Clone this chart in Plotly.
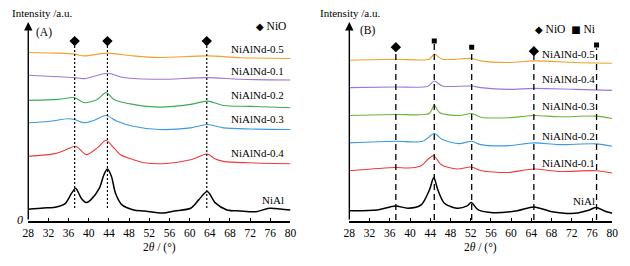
import plotly.graph_objects as go

# ---------------- data (2θ in degrees, intensity in a.u. with stacking offsets) ----------------
# Panel A
A_x_NiAl = [28, 31, 33.3, 35.25, 36.6, 37.4, 38.5, 39.5, 40.4, 42.1, 43.0, 43.7, 44.5, 45.3, 46.6, 48.9,
            51, 54.7, 57, 60.2, 61.8, 63.5, 65.1, 67.4, 70, 73.2, 75.8, 78, 80]
A_y_NiAl = [11.7, 13, 13.7, 17, 27.7, 32.7, 22.7, 18.3, 21, 32.7, 46, 51.7, 44.3, 27.7, 16, 11,
            10, 8, 10, 12.7, 21, 29.3, 18, 11, 10, 9.3, 12.7, 12, 11]

A_x_04 = [28, 33.3, 35.25, 37.4, 39.5, 41.7, 43.4, 44.7, 46.3, 48.9, 51, 54.7, 60.2, 63.5, 65, 66.7, 73, 80]
A_y_04 = [64.3, 67, 70.3, 74.3, 66, 72.7, 80.3, 74.3, 66, 61, 58, 57, 61, 66.7, 62, 59.3, 57.7, 57]

A_x_03 = [28, 32, 35.9, 37.2, 39.1, 41, 43.4, 45.6, 48.8, 54, 60.2, 63.5, 66.7, 72, 80]
A_y_03 = [97.7, 99, 101.7, 101, 97.7, 100, 105, 99.3, 94.3, 91, 92.7, 96, 92.7, 91.5, 91]

A_x_02 = [28, 34, 37.2, 39.1, 41.7, 43.4, 45, 48.8, 54, 60.2, 63.5, 66.7, 72, 80]
A_y_02 = [120, 121, 122.7, 117.7, 121, 127.7, 121, 116, 113.3, 116, 119.3, 115, 114, 112.7]

A_x_01 = [28, 34, 37.2, 39.1, 43.7, 46.9, 54, 63.5, 70, 80]
A_y_01 = [145, 143.5, 142.7, 141.7, 147, 142.7, 141, 142.7, 141, 140.3]

A_x_05 = [28, 34, 37.2, 39.1, 43.7, 48.8, 54, 63.5, 70, 80]
A_y_05 = [167.7, 167, 166, 164.3, 167, 164.3, 162.7, 164.3, 162.5, 161.7]

A_NiO_peaks = [37.2, 43.7, 63.4]
A_NiO_marker_y = [179, 179, 179]

# Panel B
B_x_NiAl = [28, 33.5, 37.1, 39.6, 42.2, 43.85, 44.7, 45.5, 46.8, 49.3, 51.3, 52.1, 53.5, 56.5, 61.2, 64.5,
            68.1, 72.6, 75.5, 76.8, 78.5, 80]
B_y_NiAl = [10.3, 11, 15, 12.7, 16, 31, 43.3, 31, 17.7, 12.7, 15, 18.3, 11, 8.3, 10.3, 14,
            9.3, 7.7, 11, 13.5, 10, 7.7]

B_x_01 = [28, 37.1, 39.6, 42.2, 43.85, 44.7, 46.2, 49.3, 52.1, 54, 56.5, 59.6, 64.5, 69.4, 76.8, 80]
B_y_01 = [50, 53.3, 52.7, 55, 62.7, 65, 56, 51.7, 53.7, 50.3, 48.7, 48.3, 51.7, 49.3, 50, 47.7]

B_x_02 = [28, 37.1, 42.5, 44.8, 46.4, 49.7, 52.25, 54, 59.6, 64.5, 69.4, 76.8, 80]
B_y_02 = [77.7, 79.3, 79.3, 87, 81, 77, 79.3, 76, 75, 77.7, 76, 76.7, 74.3]

B_x_03 = [28, 37.1, 43.8, 44.8, 45.9, 49.7, 52.25, 54, 59.6, 64.5, 69.4, 76.8, 80]
B_y_03 = [105, 106, 107, 115, 107.7, 105, 107, 103.3, 102.7, 105, 103.7, 104.3, 102]

B_x_04 = [28, 37.1, 43.5, 44.8, 46.4, 52.25, 54, 59.6, 64.5, 72.6, 80]
B_y_04 = [132.7, 133.3, 134, 139.3, 134.3, 134.3, 132.7, 131, 132, 131, 130]

B_x_05 = [28, 37.1, 43.8, 44.8, 46.4, 52.25, 54, 59.6, 64.5, 72.6, 80]
B_y_05 = [160, 161, 161, 166, 161, 161.7, 159.3, 157.7, 159.3, 157.7, 157]

B_NiO_peaks = [37.2, 64.5]
B_NiO_marker_y = [173, 169]
B_Ni_peaks = [44.8, 52.2, 76.9]
B_Ni_marker_y = [179, 173, 175]

A_labels = ["NiAlNd-0.5", "NiAlNd-0.1", "NiAlNd-0.2", "NiAlNd-0.3", "NiAlNd-0.4", "NiAl"]
B_labels = ["NiAlNd-0.5", "NiAlNd-0.4", "NiAlNd-0.3", "NiAlNd-0.2", "NiAlNd-0.1", "NiAl"]

x_ticks = list(range(28, 81, 4))

# ---------------- styling ----------------
FONT = "Liberation Serif, DejaVu Serif, serif"
A_colors = ["#F0A030", "#9A78D8", "#3DAA5A", "#3A9AE0", "#F03A3A", "#000000"]
B_colors = ["#F0A030", "#9A78D8", "#6CB23A", "#3A9AE0", "#F03A3A", "#000000"]
A_label_y = [171, 149, 125, 101, 68, 21]
B_label_y = [166, 141, 114, 85, 58, 20]

fig = go.Figure()

A_series = [(A_x_05, A_y_05), (A_x_01, A_y_01), (A_x_02, A_y_02),
            (A_x_03, A_y_03), (A_x_04, A_y_04), (A_x_NiAl, A_y_NiAl)]
B_series = [(B_x_05, B_y_05), (B_x_04, B_y_04), (B_x_03, B_y_03),
            (B_x_02, B_y_02), (B_x_01, B_y_01), (B_x_NiAl, B_y_NiAl)]

for (xs, ys), c in zip(A_series, A_colors):
    fig.add_trace(go.Scatter(x=xs, y=ys, mode="lines", line=dict(color=c, width=1.5 if c == "#000000" else 1.1,
                  shape="spline", smoothing=0.8), xaxis="x", yaxis="y", showlegend=False, hoverinfo="skip"))
for (xs, ys), c in zip(B_series, B_colors):
    fig.add_trace(go.Scatter(x=xs, y=ys, mode="lines", line=dict(color=c, width=1.5 if c == "#000000" else 1.1,
                  shape="spline", smoothing=0.8), xaxis="x2", yaxis="y2", showlegend=False, hoverinfo="skip"))

# reference lines
for p, my in zip(A_NiO_peaks, A_NiO_marker_y):
    fig.add_trace(go.Scatter(x=[p, p], y=[13, my - 3], mode="lines",
                  line=dict(color="black", width=1.2, dash="2px,2px"), xaxis="x", yaxis="y",
                  showlegend=False, hoverinfo="skip"))
for p, my in list(zip(B_NiO_peaks, B_NiO_marker_y)) + list(zip(B_Ni_peaks, B_Ni_marker_y)):
    fig.add_trace(go.Scatter(x=[p, p], y=[1, my - 3], mode="lines",
                  line=dict(color="black", width=1.3, dash="6px,4px"), xaxis="x2", yaxis="y2",
                  showlegend=False, hoverinfo="skip"))

fig.add_trace(go.Scatter(x=A_NiO_peaks, y=A_NiO_marker_y, mode="markers",
              marker=dict(symbol="diamond", size=8, color="black"), xaxis="x", yaxis="y",
              showlegend=False, hoverinfo="skip"))
fig.add_trace(go.Scatter(x=B_NiO_peaks, y=B_NiO_marker_y, mode="markers",
              marker=dict(symbol="diamond", size=8, color="black"), xaxis="x2", yaxis="y2",
              showlegend=False, hoverinfo="skip"))
fig.add_trace(go.Scatter(x=B_Ni_peaks, y=B_Ni_marker_y, mode="markers",
              marker=dict(symbol="square", size=5, color="black"), xaxis="x2", yaxis="y2",
              showlegend=False, hoverinfo="skip"))

ann = []
for t, y in zip(A_labels, A_label_y):
    ann.append(dict(x=79.2, y=y, xref="x", yref="y", text=t, showarrow=False, xanchor="right",
                    yanchor="middle", font=dict(family=FONT, size=11, color="black")))
for t, y in zip(B_labels, B_label_y):
    ann.append(dict(x=76.9, y=y, xref="x2", yref="y2", text=t, showarrow=False, xanchor="right",
                    yanchor="middle", font=dict(family=FONT, size=11, color="black")))

# axis arrows
for xr, yr in (("x", "y"), ("x2", "y2")):
    ann.append(dict(x=28, y=198, ax=28, ay=0, xref=xr, yref=yr, axref=xr, ayref=yr, text="",
                    showarrow=True, arrowhead=2, arrowsize=1.2, arrowwidth=1.4, arrowcolor="black"))

sym = '<span style="font-family:DejaVu Sans;font-size:10px">%s</span>'
ann += [
    dict(x=4 / 630, y=1 - 13 / 266, xref="paper", yref="paper", text="Intensity /a.u.", showarrow=False,
         xanchor="left", yanchor="middle", font=dict(family=FONT, size=11, color="black")),
    dict(x=318 / 630, y=1 - 13 / 266, xref="paper", yref="paper", text="Intensity /a.u.", showarrow=False,
         xanchor="left", yanchor="middle", font=dict(family=FONT, size=11, color="black")),
    dict(x=29 / 630, y=1 - 32 / 266, xref="paper", yref="paper", text="(A)", showarrow=False,
         xanchor="left", yanchor="middle", font=dict(family=FONT, size=11.5, color="black")),
    dict(x=359 / 630, y=1 - 31 / 266, xref="paper", yref="paper", text="(B)", showarrow=False,
         xanchor="left", yanchor="middle", font=dict(family=FONT, size=11.5, color="black")),
    dict(x=253 / 630, y=1 - 26 / 266, xref="paper", yref="paper", text=(sym % "◆") + " NiO", showarrow=False,
         xanchor="left", yanchor="middle", font=dict(family=FONT, size=11.5, color="black")),
    dict(x=537 / 630, y=1 - 29 / 266, xref="paper", yref="paper",
         text=(sym % "◆") + " NiO  " + (sym % "■") + " Ni", showarrow=False,
         xanchor="left", yanchor="middle", font=dict(family=FONT, size=11.5, color="black")),
    dict(x=19 / 630, y=1 - 220 / 266, xref="paper", yref="paper", text="<i>0</i>", showarrow=False,
         xanchor="right", yanchor="middle", font=dict(family=FONT, size=12, color="black")),
    dict(x=156 / 630, y=1 - 247 / 266, xref="paper", yref="paper", text="2<i>θ</i> / (°)", showarrow=False,
         xanchor="center", yanchor="middle", font=dict(family=FONT, size=11.5, color="black")),
    dict(x=484 / 630, y=1 - 247 / 266, xref="paper", yref="paper", text="2<i>θ</i> / (°)", showarrow=False,
         xanchor="center", yanchor="middle", font=dict(family=FONT, size=11.5, color="black")),
]

xaxis_common = dict(range=[28, 80], tickvals=x_ticks, ticks="inside", ticklen=3, tickwidth=1,
                    tickcolor="black", showline=True, linecolor="black", linewidth=1.5, showgrid=False,
                    zeroline=False, tickfont=dict(family=FONT, size=11.5, color="black"), fixedrange=True)
yaxis_common = dict(range=[0, 198], showticklabels=False, ticks="", showline=False, showgrid=False,
                    zeroline=False, fixedrange=True)

fig.update_layout(
    width=630, height=266, margin=dict(l=0, r=0, t=0, b=0),
    paper_bgcolor="white", plot_bgcolor="white", showlegend=False,
    font=dict(family=FONT, color="black"),
    xaxis=dict(domain=[22.7 / 630, 290 / 630], anchor="y", **xaxis_common),
    yaxis=dict(domain=[1 - 221 / 266, 1 - 22 / 266], anchor="x", **yaxis_common),
    xaxis2=dict(domain=[350 / 630, 618 / 630], anchor="y2", **xaxis_common),
    yaxis2=dict(domain=[1 - 221 / 266, 1 - 22 / 266], anchor="x2", **yaxis_common),
    annotations=ann,
)

fig.write_html("out.html", config={"displayModeBar": False},
               post_script="document.body.style.margin='0';document.body.style.padding='0';")
